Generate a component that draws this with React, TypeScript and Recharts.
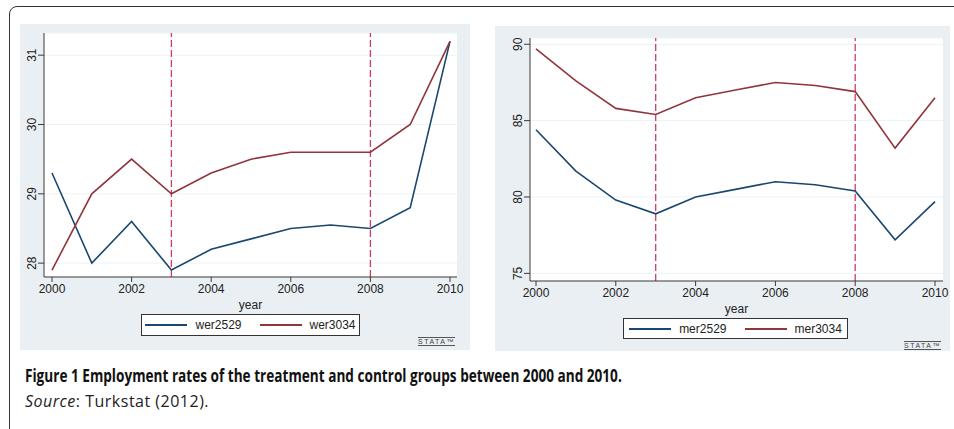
import React from 'react';
import {
  LineChart,
  Line,
  XAxis,
  YAxis,
  CartesianGrid,
  ReferenceLine
} from 'recharts';

// years on the x axis
const years = [2000, 2001, 2002, 2003, 2004, 2005, 2006, 2007, 2008, 2009, 2010];
const xTicks = [2000, 2002, 2004, 2006, 2008, 2010];
const policyYears = [2003, 2008];

// women (left panel)
const wer2529 = [29.3, 28.0, 28.6, 27.9, 28.2, 28.35, 28.5, 28.55, 28.5, 28.8, 31.2];
const wer3034 = [27.9, 29.0, 29.5, 29.0, 29.3, 29.5, 29.6, 29.6, 29.6, 30.0, 31.2];
const womenTicks = [28, 29, 30, 31];

// men (right panel)
const mer2529 = [84.4, 81.7, 79.8, 78.9, 80.0, 80.5, 81.0, 80.8, 80.4, 77.2, 79.7];
const mer3034 = [89.7, 87.6, 85.8, 85.4, 86.5, 87.0, 87.5, 87.3, 86.9, 83.2, 86.5];
const menTicks = [75, 80, 85, 90];

const NAVY = '#1a476f';
const MAROON = '#90353b';
const REFLINE = '#cc3d66';
const PANEL_BG = '#e9eff2';
const AXIS = '#3a3a3a';
const FONT = '"Liberation Sans", Arial, sans-serif';

const RotatedTick = (props: any) => {
  const { x, y, payload } = props;
  return (
    <text
      x={x}
      y={y}
      transform={`rotate(-90, ${x}, ${y})`}
      textAnchor="middle"
      fill="#222"
      fontSize={12}
      fontFamily={FONT}
    >
      {payload.value}
    </text>
  );
};

interface PanelProps {
  left: number;
  top: number;
  width: number;
  height: number;
  margin: { top: number; right: number; bottom: number; left: number };
  xPad: { left: number; right: number };
  yDomain: [number, number];
  yTicks: number[];
  names: [string, string];
  young: number[];
  old: number[];
  legend: { left: number; top: number; width: number; height: number };
  logo: { left: number; top: number };
}

const Swatch = ({ color }: { color: string }) => (
  <span style={{ display: 'inline-block', width: 42, height: 2, background: color, marginRight: 8 }} />
);

const Panel: React.FC<PanelProps> = ({
  left, top, width, height, margin, xPad, yDomain, yTicks, names, young, old, legend, logo
}) => {
  const data = years.map((year, i) => ({ year, young: young[i], old: old[i] }));
  return (
    <>
      <div style={{ position: 'absolute', left, top, width, height, background: PANEL_BG }}>
        <LineChart width={width} height={height} data={data} margin={margin}>
          <CartesianGrid fill="#ffffff" vertical={false} stroke="#eef2f4" />
          <XAxis
            type="number"
            dataKey="year"
            domain={[2000, 2010]}
            ticks={xTicks}
            padding={xPad}
            height={32}
            tickSize={5}
            stroke={AXIS}
            tick={{ fill: '#222', fontSize: 12, fontFamily: FONT }}
            label={{ value: 'year', position: 'insideBottom', offset: 0, fill: '#222', fontSize: 12, fontFamily: FONT }}
          />
          <YAxis
            type="number"
            domain={yDomain}
            ticks={yTicks}
            width={20}
            tickSize={6}
            stroke={AXIS}
            tick={<RotatedTick />}
            allowDataOverflow
          />
          {policyYears.map((py) => (
            <ReferenceLine key={py} x={py} stroke={REFLINE} strokeWidth={1.3} strokeDasharray="7 3" />
          ))}
          <Line type="linear" dataKey="young" name={names[0]} stroke={NAVY} strokeWidth={1.6} dot={false} isAnimationActive={false} />
          <Line type="linear" dataKey="old" name={names[1]} stroke={MAROON} strokeWidth={1.6} dot={false} isAnimationActive={false} />
        </LineChart>
      </div>
      <div
        style={{
          position: 'absolute',
          left: legend.left,
          top: legend.top,
          width: legend.width,
          height: legend.height,
          boxSizing: 'border-box',
          border: '1px solid #333',
          background: '#fff',
          display: 'flex',
          alignItems: 'center',
          justifyContent: 'center',
          fontFamily: FONT,
          fontSize: 12,
          color: '#222'
        }}
      >
        <Swatch color={NAVY} />
        <span style={{ marginRight: 18 }}>{names[0]}</span>
        <Swatch color={MAROON} />
        <span>{names[1]}</span>
      </div>
      <div
        style={{
          position: 'absolute',
          left: logo.left,
          top: logo.top,
          fontFamily: FONT,
          fontSize: 7,
          lineHeight: '7px',
          letterSpacing: 1.5,
          color: '#444',
          borderTop: '1px solid #555',
          borderBottom: '1px solid #555'
        }}
      >
        STATA™
      </div>
    </>
  );
};

export default function App() {
  return (
    <div
      style={{
        position: 'absolute',
        left: 0,
        top: 0,
        width: 954,
        height: 429,
        overflow: 'hidden',
        background: '#fff'
      }}
    >
      <div
        style={{
          position: 'absolute',
          left: 9,
          top: 6,
          width: 980,
          height: 460,
          border: '1.5px solid #333',
          borderRadius: 8
        }}
      />
      <Panel
        left={20}
        top={24}
        width={450}
        height={326}
        margin={{ top: 9, right: 13, bottom: 41, left: 4 }}
        xPad={{ left: 8, right: 7 }}
        yDomain={[27.8, 31.32]}
        yTicks={womenTicks}
        names={['wer2529', 'wer3034']}
        young={wer2529}
        old={wer3034}
        legend={{ left: 141, top: 314, width: 219, height: 22 }}
        logo={{ left: 418, top: 337 }}
      />
      <Panel
        left={495}
        top={26}
        width={455}
        height={325}
        margin={{ top: 12, right: 7, bottom: 38, left: 15 }}
        xPad={{ left: 6, right: 8 }}
        yDomain={[74.5, 90.41]}
        yTicks={menTicks}
        names={['mer2529', 'mer3034']}
        young={mer2529}
        old={mer3034}
        legend={{ left: 623, top: 318, width: 225, height: 21 }}
        logo={{ left: 904, top: 341 }}
      />
      <div
        style={{
          position: 'absolute',
          left: 25,
          top: 366,
          fontFamily: '"Open Sans", sans-serif',
          fontWeight: 700,
          fontSize: 17,
          lineHeight: '20px',
          whiteSpace: 'nowrap',
          color: '#111',
          transform: 'scaleX(0.8)',
          transformOrigin: 'left top'
        }}
      >
        Figure 1 Employment rates of the treatment and control groups between 2000 and 2010.
      </div>
      <div
        style={{
          position: 'absolute',
          left: 25,
          top: 391,
          fontFamily: '"Open Sans", sans-serif',
          fontSize: 16,
          lineHeight: '20px',
          letterSpacing: 0.5,
          whiteSpace: 'nowrap',
          color: '#222'
        }}
      >
        <i>Source</i>: Turkstat (2012).
      </div>
    </div>
  );
}
